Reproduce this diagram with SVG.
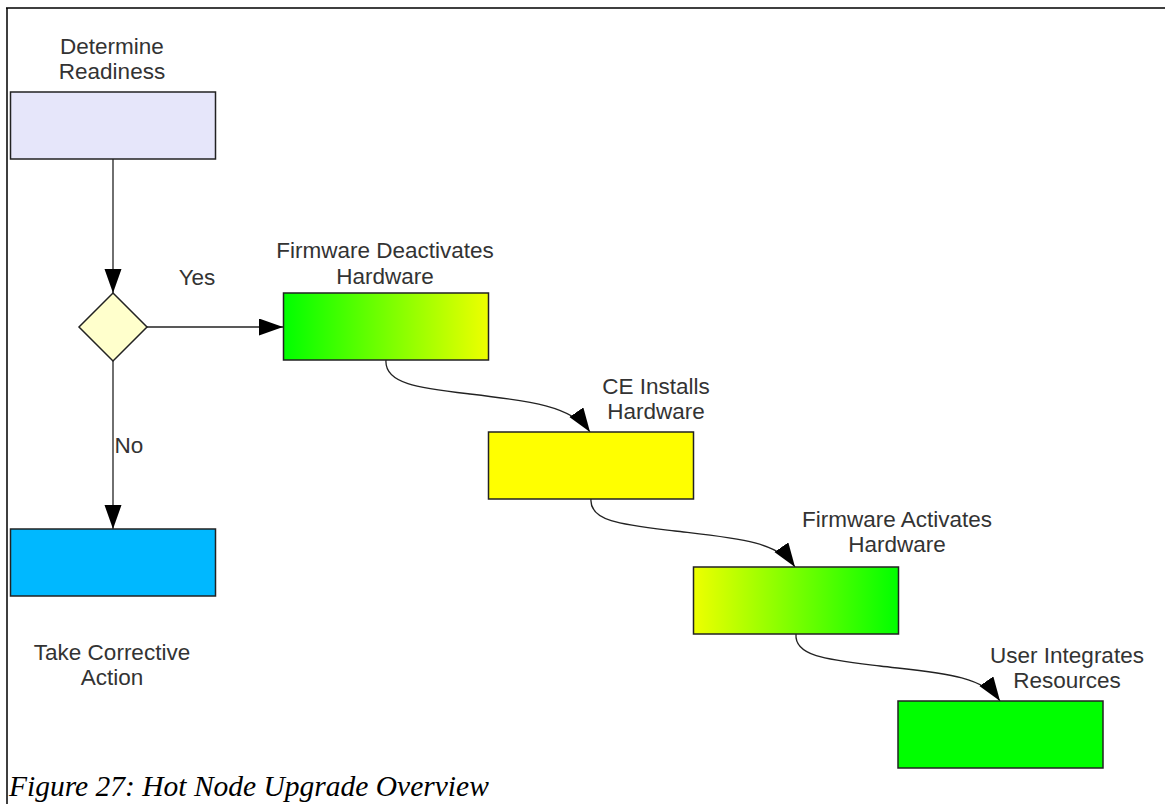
<svg xmlns="http://www.w3.org/2000/svg" width="1165" height="804" viewBox="0 0 1165 804">
  <style>
    .box { stroke: #222; stroke-width: 1.5; }
    .lbl { font-family: "Liberation Sans", Arial, sans-serif; font-size: 22.5px; fill: #333; text-anchor: middle; }
    .edge { fill: none; stroke: #222; stroke-width: 1.3; }
    .caption { font-family: "Liberation Serif", "Times New Roman", serif; font-style: italic; font-size: 29.5px; fill: #000; }
  </style>
  <defs>
    <marker id="arrow" markerUnits="userSpaceOnUse" markerWidth="26" markerHeight="18" refX="24" refY="8.5" orient="auto">
      <path d="M0,0 L24,8.5 L0,17 z" fill="#000"/>
    </marker>
    <linearGradient id="gToYellow" x1="0" y1="0" x2="1" y2="0">
      <stop offset="0" stop-color="#00ff00"/>
      <stop offset="1" stop-color="#eeff00"/>
    </linearGradient>
    <linearGradient id="yToGreen" x1="0" y1="0" x2="1" y2="0">
      <stop offset="0" stop-color="#eeff00"/>
      <stop offset="1" stop-color="#00ff00"/>
    </linearGradient>
  </defs>

  <rect width="1165" height="804" fill="#fff"/>
  <!-- frame -->
  <path d="M6,8 H1165 M7,8 V804" stroke="#000" stroke-width="1.5" fill="none"/>

  <g id="connectors">
    <path class="edge" d="M113,159 V293" marker-end="url(#arrow)"/>
    <path class="edge" d="M113,361 V529" marker-end="url(#arrow)"/>
    <path class="edge" d="M147,327 H283" marker-end="url(#arrow)"/>
    <path class="edge" d="M386,360 C384,384 420,388 470,394 C530,401 572,406 590,432" marker-end="url(#arrow)"/>
    <path class="edge" d="M591,499 C589,522 625,525 675,531 C735,538 777,541 795,567" marker-end="url(#arrow)"/>
    <path class="edge" d="M796,634 C794,657 830,660 880,666 C940,673 982,675 1000,701" marker-end="url(#arrow)"/>
    <text class="lbl" x="197" y="285">Yes</text>
    <text class="lbl" x="129" y="453">No</text>
  </g>

  <g id="determine-readiness">
    <rect class="box" x="10.5" y="92" width="205" height="67" fill="#e6e6fa"/>
    <text class="lbl" x="112" y="54">Determine</text>
    <text class="lbl" x="112" y="79">Readiness</text>
  </g>

  <g id="decision">
    <polygon class="box" points="113,293 147,327 113,361 79,327" fill="#ffffcc"/>
  </g>

  <g id="corrective-action">
    <rect class="box" x="10.5" y="529" width="205" height="67" fill="#00b8ff"/>
    <text class="lbl" x="112" y="660">Take Corrective</text>
    <text class="lbl" x="112" y="685">Action</text>
  </g>

  <g id="firmware-deactivates">
    <rect class="box" x="283.5" y="293" width="205" height="67" fill="url(#gToYellow)"/>
    <text class="lbl" x="385" y="258">Firmware Deactivates</text>
    <text class="lbl" x="385" y="284">Hardware</text>
  </g>

  <g id="ce-installs">
    <rect class="box" x="488.5" y="432" width="205" height="67" fill="#ffff00"/>
    <text class="lbl" x="656" y="394">CE Installs</text>
    <text class="lbl" x="656" y="419">Hardware</text>
  </g>

  <g id="firmware-activates">
    <rect class="box" x="693.5" y="567" width="205" height="67" fill="url(#yToGreen)"/>
    <text class="lbl" x="897" y="527">Firmware Activates</text>
    <text class="lbl" x="897" y="552">Hardware</text>
  </g>

  <g id="user-integrates">
    <rect class="box" x="898" y="701" width="205" height="67" fill="#00ff00"/>
    <text class="lbl" x="1067" y="663">User Integrates</text>
    <text class="lbl" x="1067" y="688">Resources</text>
  </g>

  <text class="caption" x="9" y="796">Figure 27: Hot Node Upgrade Overview</text>
</svg>
